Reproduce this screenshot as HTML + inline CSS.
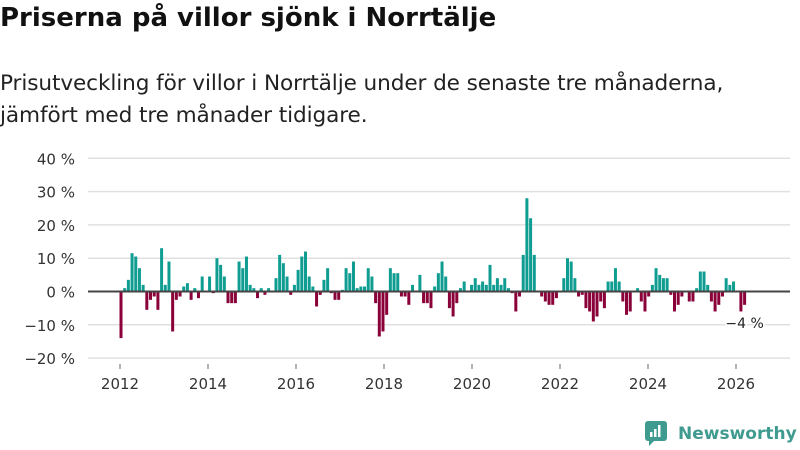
<!DOCTYPE html>
<html><head><meta charset="utf-8"><style>
body{margin:0;background:#fff;font-family:"DejaVu Sans",sans-serif;}
#wrap{position:relative;width:800px;height:450px;overflow:hidden;}
h1{position:absolute;left:0;top:3px;margin:0;font-size:26px;font-weight:bold;color:#111;}
.sub{position:absolute;left:0;top:68px;margin:0;font-size:21.6px;line-height:32px;color:#222;letter-spacing:-0.1px;}
</style></head><body><div id="wrap">
<h1>Priserna på villor sjönk i Norrtälje</h1>
<p class="sub">Prisutveckling för villor i Norrtälje under de senaste tre månaderna,<br>jämfört med tre månader tidigare.</p>
<svg id="chart" width="800" height="450" style="position:absolute;left:0;top:0"></svg>
<div style="position:absolute;left:645px;top:421px;display:flex;align-items:center;">
<svg width="22" height="26"><rect x="0" y="0" width="22" height="20" rx="3" fill="#3f9a8f"/><polygon points="4,19 10,19 4,25" fill="#3f9a8f"/><rect x="5" y="11" width="2.5" height="5" fill="#fff"/><rect x="9" y="8" width="2.5" height="8" fill="#fff"/><rect x="13" y="4" width="2.5" height="12" fill="#fff"/></svg>
<span style="margin-left:11px;font-size:17px;font-weight:bold;color:#3f9a8f;">Newsworthy</span></div>
</div>
<script>
const startYear = 2012;
const yTicks = [-20,-10,0,10,20,30,40];
const xTickYears = [2012,2014,2016,2018,2020,2022,2024,2026];
const values = [
-14,1,3.5,11.5,10.5,7,2,-5.5,-2.5,-1.5,-5.5,13,2,9,-12,-2.5,-1.5,1.5,2.5,-2.5,1,-2,4.5,0,4.5,-0.5,10,8,4.5,-3.5,-3.5,-3.5,9,7,10.5,2,1,-2,1,-1,
1,0,4,11,8.5,4.5,-1,2,6.5,10.5,12,4.5,1.5,-4.5,-1,3.5,7,-0.5,-2.5,-2.5,0.5,7,5.5,9,1,1.5,1.5,7,4.5,-3.5,-13.5,-12,-7,7,5.5,5.5,-1.5,-1.5,-4,2,0,5,-3.5,-3.5,
-5,1.5,5.5,9,4.5,-5,-7.5,-3.5,1,3,0,2,4,2,3,2,8,2,4,2,4,1,-0.5,-6,-1.5,11,28,22,11,0,-1.5,-3,-4,-4,-2,0,4,10,9,4,-1.5,-1,-5,-6,-9,
-7.5,-3,-5,3,3,7,3,-3,-7,-6,0,1,-3,-6,-1.5,2,7,5,4,4,-1,-6,-4,-1.5,0,-3,-3,1,6,6,2,-3,-6,-4,-1.5,4,2,3,0,-6,-4
];
const svg=document.getElementById('chart');
const NS='http://www.w3.org/2000/svg';
const x0=121, mw=3.69;
function xMonth(i){return x0+i*mw;}
function xYear(yr){return 120+(yr-startYear)*44;}
function yV(v){return 291.5-v*3.33;}
function mk(t,a){const e=document.createElementNS(NS,t);for(const k in a)e.setAttribute(k,a[k]);svg.appendChild(e);return e;}
yTicks.forEach(t=>{
 const g=mk('line',{x1:88,x2:790,y1:yV(t),y2:yV(t),stroke:'#e0e0e0','stroke-width':1.5});
 
 
 const l=mk('text',{x:75,y:yV(t)+6,'text-anchor':'end','font-size':15,fill:'#333','font-family':'DejaVu Sans, sans-serif'});
 l.textContent=(t<0?'\u2212'+(-t):t)+' %';
 
 
});
xTickYears.forEach(yr=>{
 const l=mk('text',{x:xYear(yr),y:389,'text-anchor':'middle','font-size':15,fill:'#333','font-family':'DejaVu Sans, sans-serif'});
 l.textContent=yr;
 
 
 const t=mk('line',{x1:xYear(yr),x2:xYear(yr),y1:364,y2:369,stroke:'#666'});
 
 
});
values.forEach((v,i)=>{
 const y=Math.min(yV(v),yV(0)), h=Math.abs(yV(v)-yV(0));
 const r=mk('rect',{x:xMonth(i)-1.5,y:y,width:3,height:h,fill:v>=0?'#0f9d92':'#8a0038'});
 
 
});
const z=mk('line',{x1:88,x2:790,y1:yV(0),y2:yV(0),stroke:'#444','stroke-width':2});


const last=values[values.length-1];
const lb=mk('text',{x:xMonth(values.length-1)+0,y:yV(last)+23,'text-anchor':'middle','font-size':14,fill:'#222','font-family':'DejaVu Sans, sans-serif',stroke:'#fff','stroke-width':3,'paint-order':'stroke'});
lb.textContent='\u2212'+Math.abs(last)+' %';


</script></body></html>
